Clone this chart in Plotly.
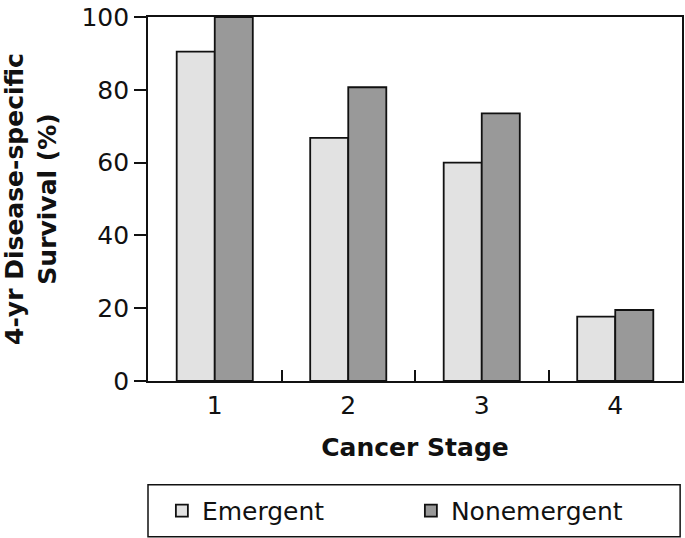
import plotly.graph_objects as go

stages = ["1", "2", "3", "4"]
emergent = [90.5, 66.8, 60.0, 17.7]
nonemergent = [100.0, 80.7, 73.5, 19.5]
y_ticks = [0, 20, 40, 60, 80, 100]

FONT = "DejaVu Sans"
BLACK = "#111111"

fig = go.Figure()
fig.add_trace(go.Bar(x=stages, y=emergent, name="Emergent",
                     marker=dict(color="#e2e2e2", line=dict(color=BLACK, width=1.8))))
fig.add_trace(go.Bar(x=stages, y=nonemergent, name="Nonemergent",
                     marker=dict(color="#999999", line=dict(color=BLACK, width=1.8))))

fig.update_layout(
    width=685, height=538,
    margin=dict(l=148, r=1, t=17, b=157),
    paper_bgcolor="white", plot_bgcolor="white",
    barmode="group", bargap=0.43, bargroupgap=0,
    font=dict(family=FONT, size=25, color=BLACK),
    showlegend=True,
    legend=dict(orientation="h", x=0.026, xanchor="left", y=-0.357, yanchor="middle",
                borderwidth=0, bgcolor="rgba(0,0,0,0)",
                font=dict(family=FONT, size=25, color=BLACK),
                entrywidth=204, entrywidthmode="pixels"),
    shapes=[dict(type="rect", xref="paper", yref="paper",
                 x0=0, x1=0.9965, y0=-0.2849, y1=-0.4277,
                 line=dict(color=BLACK, width=1.5), fillcolor="rgba(0,0,0,0)")],
)
fig.update_xaxes(
    type="category", showline=True, mirror=True, linecolor=BLACK, linewidth=1.8,
    ticks="inside", tickson="boundaries", ticklen=11, tickwidth=1.8, tickcolor=BLACK,
    showgrid=False, ticklabelstandoff=1,
    title=dict(text="<b>Cancer Stage</b>", font=dict(family=FONT, size=25, color=BLACK), standoff=20),
)
fig.update_yaxes(
    range=[0, 100], tickvals=y_ticks, showline=True, mirror=True, linecolor=BLACK, linewidth=1.8,
    ticks="outside", ticklen=12, tickwidth=1.8, tickcolor=BLACK, showgrid=False, zeroline=False,
    title=dict(text="<b>4-yr Disease-specific<br>Survival (%)</b>",
               font=dict(family=FONT, size=25, color=BLACK), standoff=22),
)

fig.write_html("out.html", config={"displayModeBar": False},
               post_script="document.body.style.margin='0';document.body.style.overflow='hidden';")
